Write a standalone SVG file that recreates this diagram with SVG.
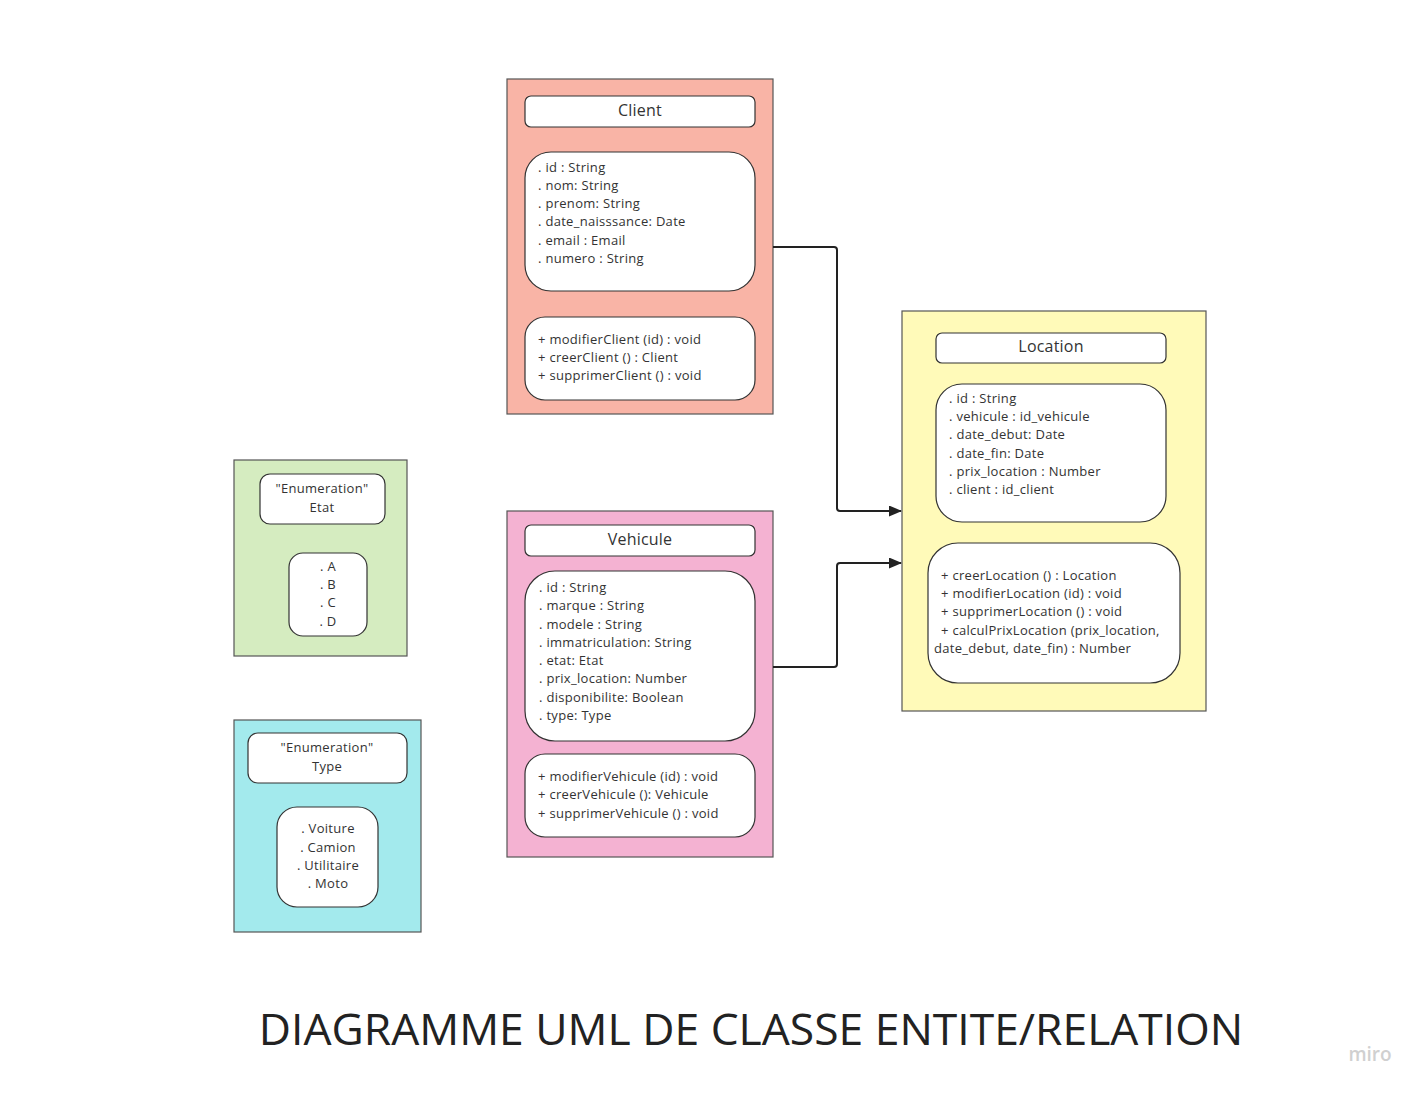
<svg xmlns="http://www.w3.org/2000/svg" width="1426" height="1095" viewBox="0 0 1426 1095">
<style>
.outer{stroke:#555;stroke-width:1.2}
.box{fill:#fff;stroke:#333;stroke-width:1.2}
text{font-family:"Open Sans","Noto Sans",sans-serif;fill:#333}
.t{font-size:16px;text-anchor:middle;letter-spacing:0.2px}
.a{font-size:13px;letter-spacing:0.3px}
.c{font-size:13px;text-anchor:middle;letter-spacing:0.3px}
.conn{fill:none;stroke:#222;stroke-width:2}
</style>
<defs>
<marker id="arr" markerWidth="13" markerHeight="11" refX="12" refY="5.5" orient="auto" markerUnits="userSpaceOnUse">
<path d="M0,0 L13,5.5 L0,11 Z" fill="#222"/>
</marker>
</defs>
<rect width="1426" height="1095" fill="#fff"/>

<g id="client">
<rect class="outer" x="507" y="79" width="266" height="335" fill="#f9b4a6"/>
<rect class="box" x="525" y="96" width="230" height="31" rx="6"/>
<text class="t" x="640" y="116">Client</text>
<rect class="box" x="525" y="152" width="230" height="139" rx="26"/>
<text class="a" x="538" y="172">. id : String</text>
<text class="a" x="538" y="190">. nom: String</text>
<text class="a" x="538" y="208">. prenom: String</text>
<text class="a" x="538" y="226">. date_naisssance: Date</text>
<text class="a" x="538" y="245">. email : Email</text>
<text class="a" x="538" y="263">. numero : String</text>
<rect class="box" x="525" y="317" width="230" height="83" rx="20"/>
<text class="a" x="538" y="344">+ modifierClient (id) : void</text>
<text class="a" x="538" y="362">+ creerClient () : Client</text>
<text class="a" x="538" y="380">+ supprimerClient () : void</text>
</g>

<g id="vehicule">
<rect class="outer" x="507" y="511" width="266" height="346" fill="#f4b2d2"/>
<rect class="box" x="525" y="525" width="230" height="31" rx="6"/>
<text class="t" x="640" y="545">Vehicule</text>
<rect class="box" x="525" y="571" width="230" height="170" rx="30"/>
<text class="a" x="539" y="592">. id : String</text>
<text class="a" x="539" y="610">. marque : String</text>
<text class="a" x="539" y="629">. modele : String</text>
<text class="a" x="539" y="647">. immatriculation: String</text>
<text class="a" x="539" y="665">. etat: Etat</text>
<text class="a" x="539" y="683">. prix_location: Number</text>
<text class="a" x="539" y="702">. disponibilite: Boolean</text>
<text class="a" x="539" y="720">. type: Type</text>
<rect class="box" x="525" y="754" width="230" height="83" rx="20"/>
<text class="a" x="538" y="781">+ modifierVehicule (id) : void</text>
<text class="a" x="538" y="799">+ creerVehicule (): Vehicule</text>
<text class="a" x="538" y="818">+ supprimerVehicule () : void</text>
</g>

<g id="location">
<rect class="outer" x="902" y="311" width="304" height="400" fill="#fffab9"/>
<rect class="box" x="936" y="333" width="230" height="30" rx="6"/>
<text class="t" x="1051" y="352">Location</text>
<rect class="box" x="936" y="384" width="230" height="138" rx="26"/>
<text class="a" x="949" y="403">. id : String</text>
<text class="a" x="949" y="421">. vehicule : id_vehicule</text>
<text class="a" x="949" y="439">. date_debut: Date</text>
<text class="a" x="949" y="458">. date_fin: Date</text>
<text class="a" x="949" y="476">. prix_location : Number</text>
<text class="a" x="949" y="494">. client : id_client</text>
<rect class="box" x="928" y="543" width="252" height="140" rx="30"/>
<text class="a" x="941" y="580">+ creerLocation () : Location</text>
<text class="a" x="941" y="598">+ modifierLocation (id) : void</text>
<text class="a" x="941" y="616">+ supprimerLocation () : void</text>
<text class="a" x="941" y="635">+ calculPrixLocation (prix_location,</text>
<text class="a" x="934" y="653">date_debut, date_fin) : Number</text>
</g>

<g id="etat">
<rect class="outer" x="234" y="460" width="173" height="196" fill="#d5ecc0"/>
<rect class="box" x="260" y="474" width="125" height="50" rx="10"/>
<text class="c" x="322" y="493">"Enumeration"</text>
<text class="c" x="322" y="512">Etat</text>
<rect class="box" x="289" y="553" width="78" height="83" rx="14"/>
<text class="c" x="328" y="571">. A</text>
<text class="c" x="328" y="589">. B</text>
<text class="c" x="328" y="607">. C</text>
<text class="c" x="328" y="626">. D</text>
</g>

<g id="type">
<rect class="outer" x="234" y="720" width="187" height="212" fill="#a3eaed"/>
<rect class="box" x="248" y="733" width="159" height="50" rx="10"/>
<text class="c" x="327" y="752">"Enumeration"</text>
<text class="c" x="327" y="771">Type</text>
<rect class="box" x="277" y="807" width="101" height="100" rx="20"/>
<text class="c" x="328" y="833">. Voiture</text>
<text class="c" x="328" y="852">. Camion</text>
<text class="c" x="328" y="870">. Utilitaire</text>
<text class="c" x="328" y="888">. Moto</text>
</g>

<g id="connectors">
<path class="conn" d="M773,247 H834 Q837,247 837,250 V508 Q837,511 840,511 H901" marker-end="url(#arr)"/>
<path class="conn" d="M773,667 H834 Q837,667 837,664 V566 Q837,563 840,563 H901" marker-end="url(#arr)"/>
</g>

<text x="751" y="1045" style="font-size:44.4px;text-anchor:middle;fill:#222">DIAGRAMME UML DE CLASSE ENTITE/RELATION</text>
<text x="1370" y="1061" style="font-size:19px;text-anchor:middle;fill:#d0d0d0;font-weight:600">miro</text>
</svg>
